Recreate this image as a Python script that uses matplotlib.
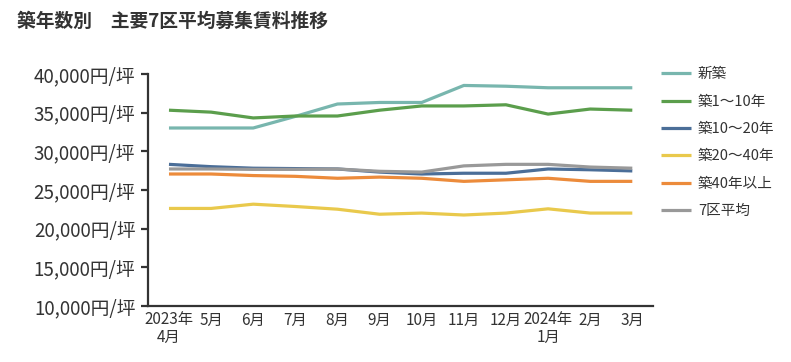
import matplotlib
matplotlib.use("Agg")
import matplotlib.pyplot as plt
from matplotlib.ticker import FuncFormatter

plt.rcParams['font.family'] = ['Noto Sans CJK JP', 'DejaVu Sans']

months = ['2023年\n4月', '5月', '6月', '7月', '8月', '9月', '10月', '11月',
          '12月', '2024年\n1月', '2月', '3月']

shinchiku = [33000, 33000, 33000, 34500, 36100, 36300, 36300, 38500, 38400, 38200, 38200, 38200]
chiku_1_10 = [35300, 35050, 34300, 34550, 34550, 35300, 35850, 35850, 36000, 34800, 35450, 35300]
chiku_10_20 = [28300, 28000, 27800, 27750, 27700, 27300, 27050, 27150, 27150, 27700, 27600, 27450]
chiku_20_40 = [22600, 22600, 23150, 22850, 22500, 21850, 22000, 21750, 22000, 22550, 22000, 22000]
chiku_40 = [27050, 27050, 26850, 26750, 26500, 26650, 26500, 26100, 26300, 26500, 26100, 26100]
avg7 = [27700, 27700, 27650, 27650, 27700, 27400, 27300, 28100, 28300, 28300, 27950, 27800]

series = [
    ('新築', shinchiku, '#78b6ae'),
    ('築1～10年', chiku_1_10, '#5b9e4c'),
    ('築10～20年', chiku_10_20, '#4b6e98'),
    ('築20～40年', chiku_20_40, '#e9c94c'),
    ('築40年以上', chiku_40, '#ec8b3b'),
    ('7区平均', avg7, '#999999'),
]

fig = plt.figure(figsize=(7.91, 3.62), dpi=100)
ax = fig.add_axes([0.187, 0.155, 0.639, 0.641])

x = range(len(months))
for name, vals, col in series:
    ax.plot(x, vals, color=col, lw=2.3, label=name, solid_capstyle='butt')

ax.set_xlim(-0.5, len(months) - 0.5)
ax.set_ylim(10000, 40000)
ax.set_yticks(range(10000, 40001, 5000))
ax.yaxis.set_major_formatter(FuncFormatter(lambda v, p: f'{int(v):,}円/坪'))
ax.set_xticks(list(x))
ax.set_xticklabels(months, fontsize=11, color='#333333', linespacing=1.05)

for s in ['top', 'right']:
    ax.spines[s].set_visible(False)
for s in ['left', 'bottom']:
    ax.spines[s].set_color('#333333')
    ax.spines[s].set_linewidth(1.6)
ax.tick_params(axis='y', length=5, width=1.6, color='#333333', labelsize=13.5,
               labelcolor='#333333', pad=4)
ax.tick_params(axis='x', length=0, pad=4)

ax.legend(loc='upper left', bbox_to_anchor=(0.99, 1.085), frameon=False,
          fontsize=10.5, labelcolor='#333333', handlelength=2.0,
          labelspacing=0.92, handletextpad=0.5)

fig.text(0.022, 0.94, '築年数別　主要7区平均募集賃料推移', fontsize=13.5,
         fontweight='bold', color='#333333', va='center')

fig.savefig('out.png', dpi=100)
